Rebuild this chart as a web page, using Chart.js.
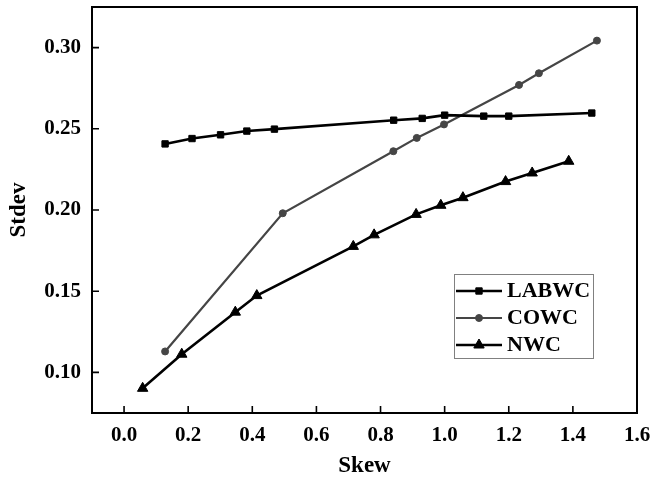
<!DOCTYPE html>
<html>
<head>
<meta charset="utf-8">
<script src="https://cdn.jsdelivr.net/npm/chart.js@4.4.1/dist/chart.umd.min.js"></script>
<style>
  html, body { margin: 0; padding: 0; background: #fff; }
  #wrap { width: 653px; height: 480px; }
</style>
</head>
<body>
<div id="wrap"><canvas id="myChart" width="653" height="480"></canvas></div>
<script>
// values
const labwcSkew  = [0.128, 0.212, 0.301, 0.383, 0.469, 0.841, 0.930, 1.000, 1.122, 1.200, 1.459];
const labwcStdev = [0.2407, 0.2440, 0.2463, 0.2486, 0.2498, 0.2553, 0.2564, 0.2584, 0.2578, 0.2578, 0.2597];

const cowcSkew  = [0.128, 0.495, 0.840, 0.913, 0.998, 1.232, 1.294, 1.475];
const cowcStdev = [0.1129, 0.1980, 0.2362, 0.2444, 0.2527, 0.2770, 0.2842, 0.3043];

const nwcSkew  = [0.058, 0.180, 0.347, 0.414, 0.715, 0.780, 0.911, 0.988, 1.057, 1.190, 1.273, 1.387];
const nwcStdev = [0.0902, 0.1112, 0.1371, 0.1473, 0.1776, 0.1847, 0.1973, 0.2029, 0.2076, 0.2175, 0.2228, 0.2300];

const xTicks = [0, 0.2, 0.4, 0.6, 0.8, 1.0, 1.2, 1.4, 1.6];
const yTicks = [0.10, 0.15, 0.20, 0.25, 0.30];

const serif = "'Liberation Serif', 'Times New Roman', serif";
const toPoints = (xs, ys) => xs.map((x, i) => ({ x: x, y: ys[i] }));

// box around the plot + short ticks pointing inward
const frameTicks = {
    id: 'frameTicks',
    afterDraw(chart) {
        const { ctx, chartArea: a, scales } = chart;
        ctx.save();
        ctx.strokeStyle = '#000';
        ctx.lineWidth = 1.6;
        ctx.beginPath();
        scales.x.ticks.forEach(t => {
            const px = scales.x.getPixelForValue(t.value);
            ctx.moveTo(px, a.bottom);
            ctx.lineTo(px, a.bottom - 7);
        });
        scales.y.ticks.forEach(t => {
            const py = scales.y.getPixelForValue(t.value);
            ctx.moveTo(a.left, py);
            ctx.lineTo(a.left + 7, py);
        });
        ctx.stroke();
        ctx.lineWidth = 2;
        ctx.strokeRect(a.left, a.top, a.right - a.left, a.bottom - a.top);
        ctx.restore();
    }
};

// legend inside the plot, lower right
const legendBox = {
    id: 'legendBox',
    afterDraw(chart) {
        const { ctx, chartArea: a } = chart;
        const x0 = a.right - 183, y0 = a.top + 267;
        ctx.save();
        ctx.strokeStyle = '#808080';
        ctx.lineWidth = 1;
        ctx.strokeRect(x0 + 0.5, y0 + 0.5, 139, 84);
        chart.data.datasets.forEach((ds, i) => {
            const y = y0 + 17 + i * 27;
            ctx.strokeStyle = ds.borderColor;
            ctx.lineWidth = ds.borderWidth;
            ctx.beginPath();
            ctx.moveTo(x0 + 2, y);
            ctx.lineTo(x0 + 48, y);
            ctx.stroke();
            ctx.fillStyle = ds.backgroundColor;
            ctx.lineWidth = 1;
            Chart.helpers.drawPoint(ctx, { pointStyle: ds.pointStyle, radius: ds.pointRadius, borderWidth: 1, rotation: 0 }, x0 + 25, y);
            ctx.fillStyle = '#000';
            ctx.font = 'bold 22px ' + serif;
            ctx.textAlign = 'left';
            ctx.textBaseline = 'middle';
            ctx.fillText(ds.label, x0 + 53, y);
        });
        ctx.restore();
    }
};

const ctx = document.getElementById('myChart');

new Chart(ctx, {
    type: 'line',
    data: {
        datasets: [
            {
                label: 'LABWC',
                data: toPoints(labwcSkew, labwcStdev),
                borderColor: '#000',
                backgroundColor: '#000',
                borderWidth: 2.6,
                pointStyle: 'rect',
                pointRadius: 4.5,
                pointBorderWidth: 1,
                tension: 0
            },
            {
                label: 'COWC',
                data: toPoints(cowcSkew, cowcStdev),
                borderColor: '#454545',
                backgroundColor: '#454545',
                borderWidth: 2.2,
                pointStyle: 'circle',
                pointRadius: 3.5,
                pointBorderWidth: 1,
                tension: 0
            },
            {
                label: 'NWC',
                data: toPoints(nwcSkew, nwcStdev),
                borderColor: '#000',
                backgroundColor: '#000',
                borderWidth: 2.6,
                pointStyle: 'triangle',
                pointRadius: 6,
                pointBorderWidth: 1,
                tension: 0
            }
        ]
    },
    options: {
        responsive: false,
        animation: false,
        devicePixelRatio: 1,
        layout: { padding: { top: 7, right: 16, left: 0, bottom: 0 } },
        plugins: {
            legend: { display: false },
            tooltip: { enabled: false }
        },
        scales: {
            x: {
                type: 'linear',
                min: -0.1,
                max: 1.6,
                afterBuildTicks: s => { s.ticks = xTicks.map(v => ({ value: v })); },
                afterFit: s => { s.height = 67; s.paddingLeft = 0; s.paddingRight = 0; },
                grid: { display: false, drawTicks: false },
                border: { display: false },
                ticks: {
                    padding: 10,
                    color: '#000',
                    font: { family: serif, size: 21, weight: 'bold' },
                    callback: v => v.toFixed(1)
                },
                title: {
                    display: true,
                    text: 'Skew',
                    color: '#000',
                    font: { family: serif, size: 23, weight: 'bold' },
                    padding: { top: 0, bottom: 0 }
                }
            },
            y: {
                type: 'linear',
                min: 0.075,
                max: 0.325,
                afterBuildTicks: s => { s.ticks = yTicks.map(v => ({ value: v })); },
                afterFit: s => { s.width = 92; s.paddingTop = 0; s.paddingBottom = 0; },
                grid: { display: false, drawTicks: false },
                border: { display: false },
                ticks: {
                    padding: 11,
                    color: '#000',
                    font: { family: serif, size: 21, weight: 'bold' },
                    callback: v => v.toFixed(2)
                },
                title: {
                    display: true,
                    text: 'Stdev',
                    color: '#000',
                    font: { family: serif, size: 23, weight: 'bold' },
                    padding: { top: 5, bottom: 0 }
                }
            }
        }
    },
    plugins: [frameTicks, legendBox]
});
</script>
</body>
</html>
